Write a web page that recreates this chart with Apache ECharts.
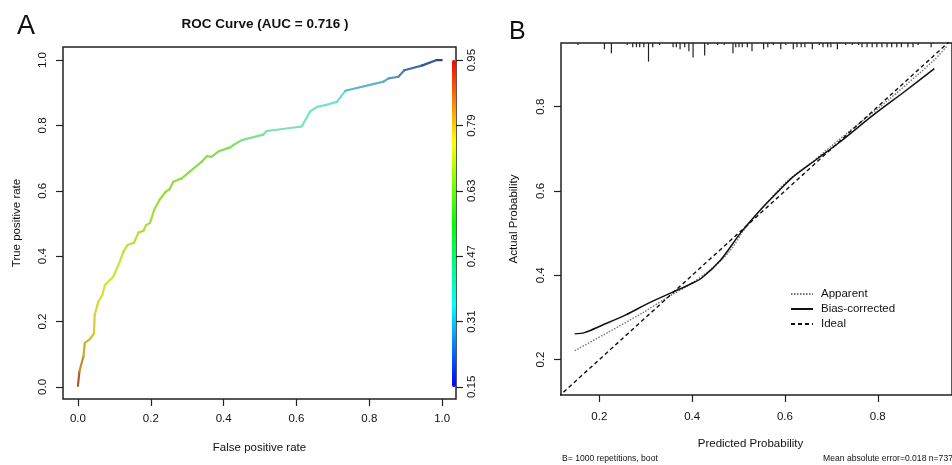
<!DOCTYPE html>
<html>
<head>
<meta charset="utf-8">
<script src="https://cdn.jsdelivr.net/npm/echarts@6/dist/echarts.min.js"></script>
<style>
  html, body { margin: 0; padding: 0; background: #fff; }
  #chart { width: 952px; height: 465px; }
</style>
</head>
<body>
<div id="chart"></div>
<script>
// ---------- Panel A: ROC curve ----------
const rocFpr = [0.000, 0.004, 0.015, 0.019, 0.033, 0.044, 0.046, 0.056, 0.067, 0.074, 0.097, 0.115, 0.125, 0.136, 0.154, 0.166, 0.180, 0.187, 0.198, 0.209, 0.225, 0.241, 0.251, 0.262, 0.285, 0.303, 0.340, 0.354, 0.367, 0.385, 0.418, 0.427, 0.450, 0.509, 0.518, 0.610, 0.615, 0.637, 0.656, 0.679, 0.711, 0.734, 0.839, 0.853, 0.880, 0.896, 0.944, 0.985, 0.999];
const rocTpr = [0.003, 0.047, 0.093, 0.135, 0.146, 0.164, 0.220, 0.261, 0.281, 0.312, 0.337, 0.383, 0.414, 0.434, 0.441, 0.472, 0.478, 0.495, 0.502, 0.541, 0.574, 0.597, 0.604, 0.628, 0.638, 0.655, 0.689, 0.706, 0.704, 0.720, 0.733, 0.740, 0.755, 0.772, 0.783, 0.796, 0.798, 0.842, 0.857, 0.862, 0.872, 0.906, 0.934, 0.944, 0.949, 0.969, 0.983, 1.000, 1.000];
const rocThreshold = [0.95, 0.90, 0.86, 0.83, 0.81, 0.80, 0.78, 0.77, 0.76, 0.755, 0.74, 0.73, 0.72, 0.71, 0.705, 0.70, 0.69, 0.685, 0.68, 0.67, 0.66, 0.65, 0.645, 0.64, 0.63, 0.62, 0.60, 0.59, 0.585, 0.57, 0.55, 0.54, 0.52, 0.48, 0.47, 0.42, 0.41, 0.39, 0.38, 0.37, 0.35, 0.34, 0.30, 0.29, 0.27, 0.25, 0.21, 0.17, 0.15];
const rocTicks = [0, 0.2, 0.4, 0.6, 0.8, 1.0];
const cutoffTicks = [0.15, 0.31, 0.47, 0.63, 0.79, 0.95];

// ---------- Panel B: calibration ----------
const apparentX = [0.147, 0.221, 0.292, 0.349, 0.398, 0.448, 0.483, 0.512, 0.554, 0.604, 0.660, 0.738, 0.823, 0.922, 0.950];
const apparentY = [0.221, 0.266, 0.310, 0.349, 0.380, 0.421, 0.460, 0.508, 0.563, 0.622, 0.670, 0.741, 0.816, 0.911, 0.945];
const biasX = [0.147, 0.168, 0.207, 0.257, 0.306, 0.356, 0.398, 0.420, 0.462, 0.504, 0.547, 0.582, 0.618, 0.667, 0.717, 0.788, 0.858, 0.922];
const biasY = [0.261, 0.264, 0.282, 0.306, 0.334, 0.359, 0.380, 0.393, 0.437, 0.500, 0.555, 0.595, 0.634, 0.674, 0.715, 0.778, 0.836, 0.890];
const idealX = [0, 1];
const idealY = [0, 1];
const rugX = [0.154, 0.211, 0.226, 0.260, 0.272, 0.280, 0.287, 0.296, 0.306, 0.315, 0.330, 0.359, 0.366, 0.374, 0.384, 0.393, 0.402, 0.427, 0.434, 0.455, 0.469, 0.488, 0.494, 0.501, 0.508, 0.519, 0.529, 0.554, 0.563, 0.575, 0.591, 0.602, 0.618, 0.626, 0.635, 0.643, 0.659, 0.674, 0.682, 0.692, 0.699, 0.713, 0.731, 0.745, 0.759, 0.766, 0.777, 0.788, 0.798, 0.809, 0.820, 0.830, 0.841, 0.851, 0.865, 0.876, 0.887, 0.915];
const rugCount = [1, 3, 5, 1, 2, 2, 2, 2, 9, 2, 1, 2, 2, 3, 2, 4, 7, 6, 1, 1, 1, 5, 2, 2, 2, 2, 4, 3, 2, 1, 3, 1, 3, 2, 2, 2, 3, 1, 2, 2, 2, 3, 1, 1, 1, 2, 2, 2, 2, 2, 2, 2, 2, 2, 2, 2, 1, 2];
const calTicks = [0.2, 0.4, 0.6, 0.8];

// ---------- build ----------
const rocSegments = [];
for (let i = 1; i < rocFpr.length; i++) {
  rocSegments.push([rocFpr[i - 1], rocTpr[i - 1], rocFpr[i], rocTpr[i], rocThreshold[i]]);
}
const zip = (a, b) => a.map((v, i) => [v, b[i]]);

const FONT = '"Liberation Sans", Arial, Helvetica, sans-serif';
const TXT = '#111';
const rainbow = ['#0000ff', '#00ffff', '#00ff00', '#ffff00', '#ff0000'];
const linePalette = ['#2b4c8c', '#4a86b8', '#72e4d2', '#7fe2a6', '#86dc58', '#98dc3c', '#d8e636', '#c89a30', '#8c2424'];

const chart = echarts.init(document.getElementById('chart'), null, { renderer: 'canvas' });

const tickStyle = { color: '#222', width: 1.2 };
const option = {
  backgroundColor: '#fff',
  animation: false,
  textStyle: { fontFamily: FONT, color: TXT },
  title: [
    { text: 'A', left: 12, top: 8, textStyle: { fontFamily: FONT, fontSize: 27, fontWeight: 'normal', color: TXT } },
    { text: 'ROC Curve (AUC = 0.716 )', left: 260, top: 12, textAlign: 'center',
      textStyle: { fontFamily: FONT, fontSize: 13.5, fontWeight: 'bold', color: TXT } },
    { text: 'B', left: 504, top: 15, textStyle: { fontFamily: FONT, fontSize: 25, fontWeight: 'normal', color: TXT } },
    { text: 'B= 1000 repetitions, boot', left: 562, top: 454, padding: 0,
      textStyle: { fontFamily: FONT, fontSize: 8.6, fontWeight: 'normal', color: TXT } },
    { text: 'Mean absolute error=0.018 n=737', left: 823, top: 454, padding: 0,
      textStyle: { fontFamily: FONT, fontSize: 8.6, fontWeight: 'normal', color: TXT } }
  ],
  grid: [
    { left: 63, top: 47, width: 393, height: 352, show: true, borderColor: '#222', borderWidth: 1.5, backgroundColor: 'transparent' },
    { left: 561, top: 43, width: 397, height: 352, show: true, borderColor: '#222', borderWidth: 1.5, backgroundColor: 'transparent' }
  ],
  xAxis: [
    {
      gridIndex: 0, type: 'value', min: -0.041, max: 1.038,
      axisLine: { show: false, onZero: false },
      axisTick: { show: true, length: 7, customValues: rocTicks, lineStyle: tickStyle },
      axisLabel: { customValues: rocTicks, formatter: v => v.toFixed(1), margin: 14, fontSize: 11.5, color: TXT, fontFamily: FONT },
      splitLine: { show: false },
      name: 'False positive rate', nameLocation: 'middle', nameGap: 43,
      nameTextStyle: { fontSize: 11.5, color: TXT, fontFamily: FONT }
    },
    {
      gridIndex: 1, type: 'value', min: 0.1174, max: 0.96,
      axisLine: { show: false, onZero: false },
      axisTick: { show: true, length: 7, customValues: calTicks, lineStyle: tickStyle },
      axisLabel: { customValues: calTicks, formatter: v => v.toFixed(1), margin: 16, fontSize: 11.5, color: TXT, fontFamily: FONT },
      splitLine: { show: false },
      name: 'Predicted Probability', nameLocation: 'middle', nameGap: 43,
      nameTextStyle: { fontSize: 11.5, color: TXT, fontFamily: FONT, padding: [0, 12, 0, 0] }
    }
  ],
  yAxis: [
    {
      gridIndex: 0, type: 'value', min: -0.037, max: 1.04,
      axisLine: { show: false, onZero: false },
      axisTick: { show: true, length: 7, customValues: rocTicks, lineStyle: tickStyle },
      axisLabel: { customValues: rocTicks, formatter: v => v.toFixed(1), rotate: 90, margin: 14, fontSize: 11.5, color: TXT, fontFamily: FONT },
      splitLine: { show: false },
      name: 'True positive rate', nameLocation: 'middle', nameGap: 40, nameRotate: 90,
      nameTextStyle: { fontSize: 11.5, color: TXT, fontFamily: FONT }
    },
    {
      gridIndex: 0, type: 'value', position: 'right', min: 0.1204, max: 0.982,
      axisLine: { show: false, onZero: false },
      axisTick: { show: true, length: 7, customValues: cutoffTicks, lineStyle: tickStyle },
      axisLabel: { customValues: cutoffTicks, formatter: v => v.toFixed(2), rotate: 90, margin: 10, fontSize: 11.5, color: TXT, fontFamily: FONT },
      splitLine: { show: false }
    },
    {
      gridIndex: 1, type: 'value', min: 0.116, max: 0.951,
      axisLine: { show: false, onZero: false },
      axisTick: { show: true, length: 7, customValues: calTicks, lineStyle: tickStyle },
      axisLabel: { customValues: calTicks, formatter: v => v.toFixed(1), rotate: 90, margin: 14, fontSize: 11.5, color: TXT, fontFamily: FONT },
      splitLine: { show: false },
      name: 'Actual Probability', nameLocation: 'middle', nameGap: 41, nameRotate: 90,
      nameTextStyle: { fontSize: 11.5, color: TXT, fontFamily: FONT }
    },
    {
      gridIndex: 1, type: 'value', min: 0, max: 170, inverse: true, show: false
    }
  ],
  visualMap: [
    {
      type: 'continuous', show: false, seriesIndex: 0, dimension: 4,
      min: 0.15, max: 0.95, inRange: { color: linePalette }
    },
    {
      type: 'continuous', show: true, seriesIndex: 1, dimension: 1,
      min: 0.15, max: 0.95, left: 452, top: 60, itemWidth: 4, itemHeight: 327,
      padding: 0, calculable: false, hoverLink: false, inRange: { color: rainbow }
    }
  ],
  legend: {
    orient: 'vertical', left: 785, top: 283, itemWidth: 22, itemHeight: 10, itemGap: 3,
    data: ['Apparent', 'Bias-corrected', 'Ideal'],
    itemStyle: { opacity: 0 },
    textStyle: { fontSize: 11.5, color: TXT, fontFamily: FONT, padding: [0, 0, 0, 3] }
  },
  series: [
    {
      type: 'custom', name: 'ROC', xAxisIndex: 0, yAxisIndex: 0,
      encode: { x: [0, 2], y: [1, 3] },
      data: rocSegments,
      renderItem: function (params, api) {
        const p0 = api.coord([api.value(0), api.value(1)]);
        const p1 = api.coord([api.value(2), api.value(3)]);
        return {
          type: 'line',
          shape: { x1: p0[0], y1: p0[1], x2: p1[0], y2: p1[1] },
          style: { stroke: api.visual('color'), lineWidth: 2.2, lineCap: 'round' }
        };
      }
    },
    { type: 'line', name: 'cutoff', xAxisIndex: 0, yAxisIndex: 1, data: [], symbol: 'none' },
    {
      type: 'line', name: 'Apparent', xAxisIndex: 1, yAxisIndex: 2, data: zip(apparentX, apparentY),
      smooth: 0.3, symbol: 'none', lineStyle: { color: '#777', width: 1.4, type: [1.5, 1.5] }, itemStyle: { color: '#777' }
    },
    {
      type: 'line', name: 'Bias-corrected', xAxisIndex: 1, yAxisIndex: 2, data: zip(biasX, biasY),
      smooth: 0.3, symbol: 'none', lineStyle: { color: '#111', width: 1.5, type: 'solid' }, itemStyle: { color: '#111' }
    },
    {
      type: 'line', name: 'Ideal', xAxisIndex: 1, yAxisIndex: 2, data: zip(idealX, idealY),
      symbol: 'none', clip: true, lineStyle: { color: '#111', width: 1.4, type: [4, 3] }, itemStyle: { color: '#111' }
    },
    {
      type: 'bar', name: 'rug', xAxisIndex: 1, yAxisIndex: 3, data: zip(rugX, rugCount),
      barWidth: 1.2, itemStyle: { color: '#222' }, silent: true
    }
  ]
};
chart.setOption(option);
</script>
</body>
</html>
